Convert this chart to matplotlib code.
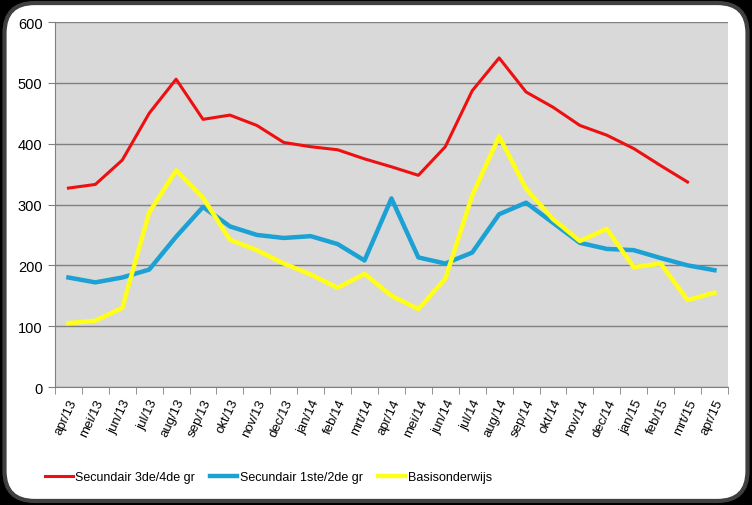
import matplotlib.pyplot as plt
import numpy as np
from matplotlib.patches import FancyBboxPatch

months = ["apr/13", "mei/13", "jun/13", "jul/13", "aug/13", "sep/13", "okt/13", "nov/13",
          "dec/13", "jan/14", "feb/14", "mrt/14", "apr/14", "mei/14", "jun/14", "jul/14",
          "aug/14", "sep/14", "okt/14", "nov/14", "dec/14", "jan/15", "feb/15", "mrt/15", "apr/15"]
sec34 = [327, 333, 373, 450, 506, 440, 447, 430, 402, 395, 390, 375, 362, 348, 395, 487,
         541, 485, 460, 430, 414, 392, 364, 337]
sec12 = [180, 172, 180, 193, 247, 296, 264, 250, 245, 248, 235, 208, 310, 213, 203, 221,
         284, 303, 270, 237, 227, 225, 212, 200, 192]
basis = [105, 109, 130, 287, 356, 311, 242, 225, 203, 185, 163, 186, 150, 128, 178, 315,
         412, 326, 276, 240, 260, 197, 203, 143, 155]

plt.rcParams['font.family'] = ['Liberation Sans', 'DejaVu Sans']

fig = plt.figure(figsize=(7.52, 5.06), dpi=100, facecolor='black')
frame = FancyBboxPatch((0.006, 0.008), 0.988, 0.984, boxstyle="round,pad=0,rounding_size=0.04",
                       transform=fig.transFigure, facecolor='white', edgecolor='#404040',
                       linewidth=3, mutation_aspect=752/506, zorder=-5)
fig.patches.append(frame)

ax = fig.add_axes([0.0731, 0.2332, 0.8949, 0.7213])
ax.set_facecolor('#d9d9d9')
x = np.arange(len(months))
ax.plot(x[:len(sec34)], sec34, color='#ee1010', lw=2.2, label='Secundair 3de/4de gr')
ax.plot(x, sec12, color='#1ba1d4', lw=3.2, label='Secundair 1ste/2de gr')
ax.plot(x, basis, color='#ffff1a', lw=3.2, label='Basisonderwijs')

ax.set_xlim(-0.5, len(months) - 0.5)
ax.set_ylim(0, 600)
ax.set_yticks(range(0, 601, 100))
ax.yaxis.grid(True, color='#808080', lw=1)
ax.set_axisbelow(True)
ax.set_xticks(x)
ax.set_xticklabels(months, rotation=65, ha='right', rotation_mode='anchor', fontsize=9.5)
ax.set_xticks(np.arange(-0.5, len(months)), minor=True)
ax.tick_params(axis='x', which='major', length=0, pad=7)
ax.tick_params(axis='x', which='minor', length=5, color='#808080')
ax.tick_params(axis='y', length=5, color='#808080', labelsize=10.5, pad=4)
for s in ['top', 'right']:
    ax.spines[s].set_visible(False)
for s in ['left', 'bottom']:
    ax.spines[s].set_color('#808080')

fig.legend(loc='center left', bbox_to_anchor=(0.06, 0.055), ncol=3, frameon=False, fontsize=9,
           handlelength=2.2, handletextpad=0.2, columnspacing=1.2, borderaxespad=0, borderpad=0)

fig.savefig('out.png', dpi=100, facecolor=fig.get_facecolor())
